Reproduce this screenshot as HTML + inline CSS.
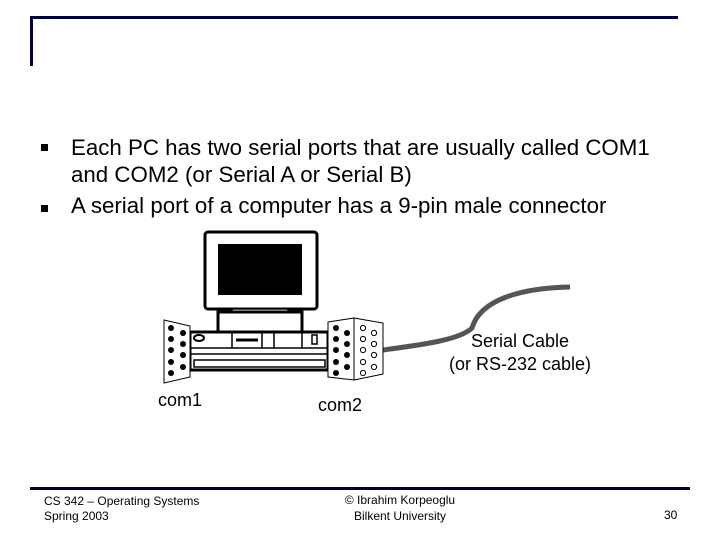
<!DOCTYPE html>
<html><head><meta charset="utf-8"><style>
body{margin:0;background:#fff;}
.s{position:relative;width:720px;height:540px;overflow:hidden;font-family:"Liberation Sans",sans-serif;color:#000;}
.t{position:absolute;white-space:nowrap;}
</style></head><body><div class="s">
<svg width="720" height="540" style="position:absolute;left:0;top:0">
<rect x="30" y="16" width="648" height="3" fill="#000040"/>
<rect x="30" y="16" width="3" height="50" fill="#000040"/>
<rect x="30" y="487" width="660" height="3" fill="#000040"/>
<rect x="41" y="144" width="7" height="7" fill="#000"/>
<rect x="41" y="205" width="7" height="7" fill="#000"/>
<path d="M383 350 C420 345 460 340 472 328 C480 300 520 288 570 287" fill="none" stroke="#555" stroke-width="5"/>
<g stroke="#000" fill="#fff">
<rect x="205" y="232" width="112" height="77" rx="3" stroke-width="3"/>
<rect x="218" y="244" width="84" height="51" fill="#000" stroke="none"/>
<rect x="232" y="309" width="56" height="3" stroke-width="1.5"/>
<rect x="218" y="312" width="84" height="20" stroke-width="3"/>
<rect x="190" y="332" width="138" height="38" stroke-width="3"/>
<line x1="190" y1="348" x2="328" y2="348" stroke-width="1.5"/>
<line x1="190" y1="354" x2="328" y2="354" stroke-width="1.5"/>
<line x1="232" y1="332" x2="232" y2="348" stroke-width="1.5"/>
<line x1="262" y1="332" x2="262" y2="348" stroke-width="1.5"/>
<line x1="274" y1="332" x2="274" y2="348" stroke-width="1.5"/>
<line x1="302" y1="332" x2="302" y2="348" stroke-width="1.5"/>
<rect x="194" y="360" width="131" height="7" stroke-width="1.5"/>
<ellipse cx="199" cy="338" rx="5" ry="3" stroke-width="2"/>
<line x1="236" y1="340" x2="258" y2="340" stroke-width="3"/>
<rect x="312" y="335" width="5" height="9" stroke-width="1.5"/>
<polygon points="164,320 190,326 190,377 164,383" stroke-width="1"/>
<polygon points="328,322 354,318 354,380 328,377" stroke-width="1"/>
<polygon points="354,318 383,323 383,374 354,380" stroke-width="1"/>
</g>
<g fill="#000">
<circle cx="171" cy="328" r="3"/><circle cx="171" cy="339" r="3"/><circle cx="171" cy="350" r="3"/><circle cx="171" cy="362" r="3"/><circle cx="171" cy="373" r="3"/>
<circle cx="183" cy="333" r="3"/><circle cx="183" cy="344" r="3"/><circle cx="183" cy="355" r="3"/><circle cx="183" cy="367" r="3"/>
<circle cx="336" cy="328" r="3"/><circle cx="336" cy="339" r="3"/><circle cx="336" cy="350" r="3"/><circle cx="336" cy="362" r="3"/><circle cx="336" cy="373" r="3"/>
<circle cx="347" cy="333" r="3"/><circle cx="347" cy="344" r="3"/><circle cx="347" cy="355" r="3"/><circle cx="347" cy="367" r="3"/>
</g>
<g fill="#fff" stroke="#000" stroke-width="1">
<circle cx="363" cy="328" r="2.6"/><circle cx="363" cy="339" r="2.6"/><circle cx="363" cy="350" r="2.6"/><circle cx="363" cy="362" r="2.6"/><circle cx="363" cy="373" r="2.6"/>
<circle cx="374" cy="333" r="2.6"/><circle cx="374" cy="344" r="2.6"/><circle cx="374" cy="355" r="2.6"/><circle cx="374" cy="367" r="2.6"/>
</g>
</svg>
<div class="t" style="left:71px;top:134px;font-size:22.3px;line-height:27px">Each PC has two serial ports that are usually called COM1<br>and COM2 (or Serial A or Serial B)</div>
<div class="t" style="left:71px;top:192px;font-size:22.3px;line-height:27px">A serial port of a computer has a 9-pin male connector</div>
<div class="t" style="left:430px;top:330px;font-size:18px;line-height:23px;text-align:center;width:180px">Serial Cable<br>(or RS-232 cable)</div>
<div class="t" style="left:158px;top:390px;font-size:18px">com1</div>
<div class="t" style="left:318px;top:395px;font-size:18px">com2</div>
<div class="t" style="left:44px;top:494px;font-size:12px;line-height:15px">CS 342 – Operating Systems<br>Spring 2003</div>
<div class="t" style="left:310px;top:492px;font-size:12px;line-height:16px;text-align:center;width:180px">© Ibrahim Korpeoglu<br>Bilkent University</div>
<div class="t" style="left:664px;top:508px;font-size:12px">30</div>
</div></body></html>
